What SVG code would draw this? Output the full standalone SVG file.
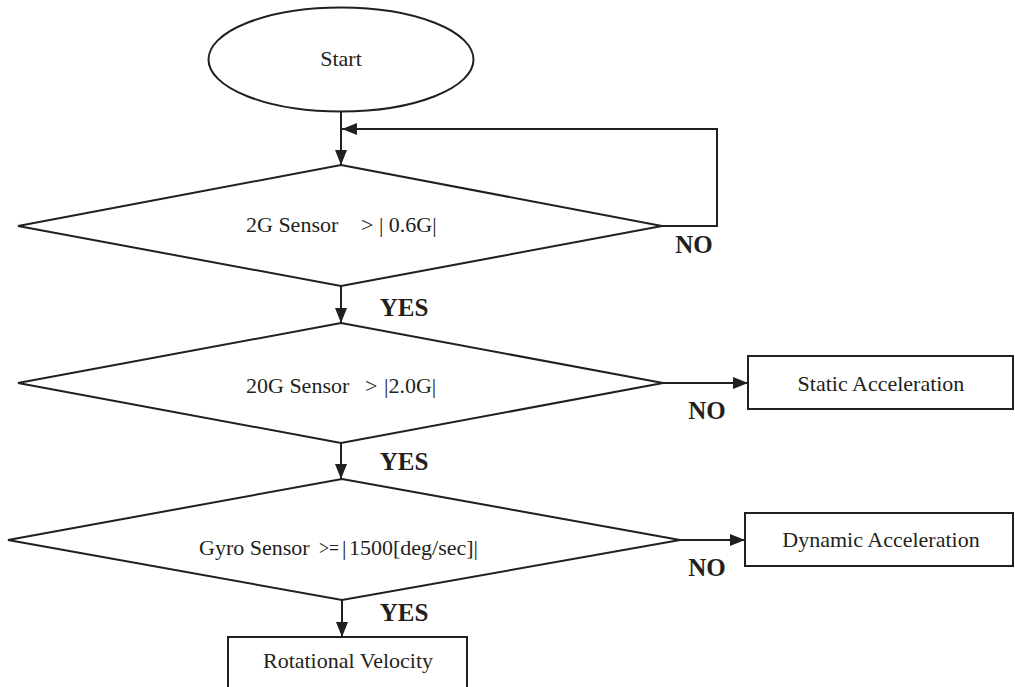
<svg xmlns="http://www.w3.org/2000/svg" width="1015" height="687" viewBox="0 0 1015 687">
<defs>
<marker id="ah" markerUnits="userSpaceOnUse" markerWidth="16" markerHeight="14" viewBox="0 0 16 14" refX="15" refY="7" orient="auto">
<path d="M0,1 L15,7 L0,13 Z" fill="#231f20"/>
</marker>
<style>
.shape{fill:#fff;stroke:#231f20;stroke-width:2}
.conn{fill:none;stroke:#231f20;stroke-width:2}
.t{font-family:"Liberation Serif","Times New Roman",serif;font-size:22px;fill:#231f20}
.c{text-anchor:middle}
.b{font-family:"Liberation Serif","Times New Roman",serif;font-size:25px;font-weight:bold;fill:#231f20;text-anchor:middle}
</style>
</defs>
<rect width="1015" height="687" fill="#fff"/>
<g id="connectors">
<path class="conn" d="M341,112 V165" marker-end="url(#ah)"/>
<path class="conn" d="M662,226 H717 V129 H342" marker-end="url(#ah)"/>
<path class="conn" d="M341,286 V323" marker-end="url(#ah)"/>
<path class="conn" d="M663,383 H748" marker-end="url(#ah)"/>
<path class="conn" d="M341,443 V479" marker-end="url(#ah)"/>
<path class="conn" d="M680,540 H745" marker-end="url(#ah)"/>
<path class="conn" d="M342,600 V637" marker-end="url(#ah)"/>
<text class="b" x="694" y="253">NO</text>
<text class="b" x="404" y="316">YES</text>
<text class="b" x="707" y="419">NO</text>
<text class="b" x="404" y="470">YES</text>
<text class="b" x="707" y="576">NO</text>
<text class="b" x="404" y="621">YES</text>
</g>
<g id="start">
<ellipse class="shape" cx="341" cy="59.5" rx="132.5" ry="52"/>
<text class="t c" x="341" y="66">Start</text>
</g>
<g id="check2g">
<polygon class="shape" points="341,165 662,226 341,286 18,226"/>
<text class="t" y="232"><tspan x="246">2G Sensor</tspan><tspan x="361">&gt; | 0.6G|</tspan></text>
</g>
<g id="check20g">
<polygon class="shape" points="341,323 663,383 341,443 18,383"/>
<text class="t" y="393"><tspan x="246">20G Sensor</tspan><tspan x="365">&gt;</tspan><tspan x="384">|2.0G|</tspan></text>
</g>
<g id="checkgyro">
<polygon class="shape" points="342,479 680,540 342,600 8,540"/>
<text class="t" y="555"><tspan x="199">Gyro Sensor</tspan></text>
<text class="t" y="555" x="319" textLength="20" lengthAdjust="spacingAndGlyphs">&gt;=</text>
<text class="t" y="555"><tspan x="342">|</tspan><tspan x="349">1500[deg/sec]|</tspan></text>
</g>
<g id="static">
<rect class="shape" x="748" y="356" width="265" height="53"/>
<text class="t c" x="881" y="391">Static Acceleration</text>
</g>
<g id="dynamic">
<rect class="shape" x="745" y="513" width="268" height="53"/>
<text class="t c" x="881" y="547">Dynamic Acceleration</text>
</g>
<g id="rotational">
<rect class="shape" x="228" y="637" width="239" height="54"/>
<text class="t c" x="348" y="668">Rotational Velocity</text>
</g>
</svg>
